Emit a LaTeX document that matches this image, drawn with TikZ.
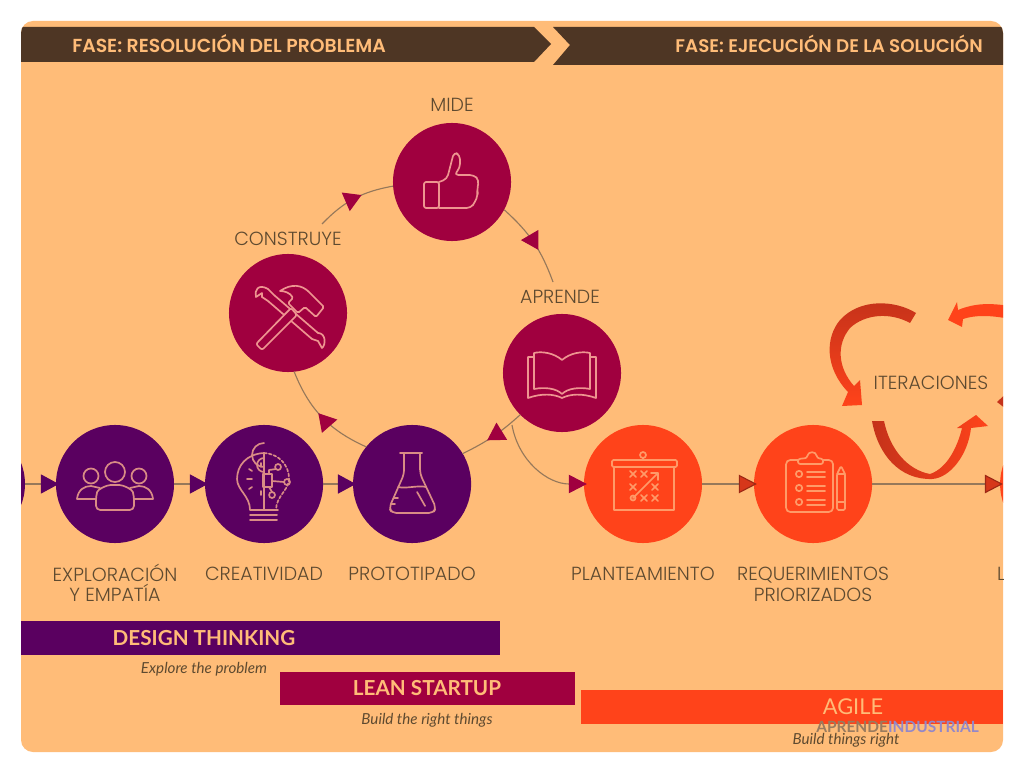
\documentclass[tikz,border=0pt]{standalone}
\usepackage{fontspec}
\setmainfont{Poppins}[UprightFont=* Light]
\newfontfamily\bandfont{Poppins}[UprightFont=* SemiBold]
\newfontfamily\barfont{Lato}
\usepackage{tikz}
\usetikzlibrary{arrows.meta,positioning,decorations.markings}
\definecolor{panelpeach}{HTML}{FFBC78}
\definecolor{bandbrown}{HTML}{4E3624}
\definecolor{plumdark}{HTML}{5A0060}
\definecolor{crimson}{HTML}{A0003F}
\definecolor{redorange}{HTML}{FF431A}
\definecolor{ribbondark}{HTML}{C4321A}
\definecolor{iconpink}{HTML}{EE9590}
\definecolor{iconplum}{HTML}{D98C85}
\definecolor{iconpeach}{HTML}{FF9A68}
\definecolor{labelbrown}{HTML}{5E4A30}
\definecolor{linetan}{HTML}{96785A}
\definecolor{markbrown}{HTML}{9A7B5E}
\definecolor{marklilac}{HTML}{9488C8}
\tikzstyle{bubble} = [circle, minimum size=2.95cm, inner sep=0pt, outer sep=0pt]
\tikzstyle{steplabel} = [inner sep=0pt, align=center, text=labelbrown, font=\fontsize{13.5}{14.5}\selectfont, execute at begin node=\rule{0pt}{14pt}]
\tikzstyle{bandtext} = [inner sep=0pt, text=panelpeach, font=\bandfont\fontsize{13.4}{15}\selectfont]
\tikzstyle{bartext} = [inner sep=0pt, text=panelpeach, font=\barfont\bfseries\fontsize{14.7}{17}\selectfont]
\tikzstyle{subtext} = [inner sep=0pt, text=labelbrown, font=\barfont\itshape\fontsize{10.8}{12}\selectfont]
\tikzstyle{flow} = [draw=linetan, line width=0.8pt]
\tikzstyle{iconline} = [line width=1.2pt, line join=round, line cap=round]
\tikzset{arcflow/.style={flow, postaction={decorate}, decoration={markings, mark=at position #1 with {\arrow{Triangle[length=0.43cm,width=0.5cm,color=crimson]}}}}, arcflow/.default=0.6}
\newcommand{\xmk}[2]{\draw[iconline] (#1,#2) +(-3,-3) -- +(3,3) +(-3,3) -- +(3,-3);}

\begin{document}
\begin{tikzpicture}[x=0.025cm, y=-0.025cm]
  \useasboundingbox (0,0) rectangle (1024,773);
  \fill[white] (0,0) rectangle (1024,773);
  \fill[panelpeach, rounded corners=0.3cm] (21,21) rectangle (1003,752);

  \begin{scope}
  \clip[rounded corners=0.3cm] (21,21) rectangle (1003,752);
  % phase bands
  \fill[bandbrown] (21,27) -- (534,27) -- (551,44) -- (534,62) -- (21,62) -- cycle;
  \fill[bandbrown] (553,27) -- (1003,27) -- (1003,65) -- (553,65) -- (570,45) -- cycle;
  \node [bandtext, anchor=west] (fasea) at (72,44) {FASE: RESOLUCIÓN DEL PROBLEMA};
  \node [bandtext, anchor=east, font=\bandfont\fontsize{13}{15}\selectfont] (faseb) at (983,44) {FASE: EJECUCIÓN DE LA SOLUCIÓN};

  % circles
  \node [bubble, fill=plumdark] (explora) at (115,484) {};
  \node [bubble, fill=plumdark, left=0.775cm of explora] (previo) {};
  \node [bubble, fill=plumdark, right=0.775cm of explora] (creativ) {};
  \node [bubble, fill=plumdark, right=0.75cm of creativ] (proto) {};
  \node [bubble, fill=redorange] (plantea) at (643,484) {};
  \node [bubble, fill=redorange, right=1.3cm of plantea] (requis) {};
  \node [bubble, fill=redorange, right=3.2cm of requis] (siguiente) {};
  \node [bubble, fill=crimson] (mide) at (452,182) {};
  \node [bubble, fill=crimson] (construye) at (288,313) {};
  \node [bubble, fill=crimson] (aprende) at (562,373) {};

  % labels
  \node [steplabel, below=0.43cm of explora, yshift=-0.09cm] (lexplora) {EXPLORACIÓN\\Y EMPATÍA};
  \node [steplabel, below=0.43cm of creativ] (lcreativ) {CREATIVIDAD};
  \node [steplabel, below=0.43cm of proto] (lproto) {PROTOTIPADO};
  \node [steplabel, below=0.43cm of plantea] (lplantea) {PLANTEAMIENTO};
  \node [steplabel, below=0.43cm of requis, yshift=-0.175cm] (lrequis) {REQUERIMIENTOS\\PRIORIZADOS};
  \node [steplabel, below=0.43cm of siguiente, xshift=-1.45cm] (lsiguiente) {L};
  \node [steplabel, above=0.275cm of mide] (lmide) {MIDE};
  \node [steplabel, above=0.2cm of construye] (lconstruye) {CONSTRUYE};
  \node [steplabel, above=0.25cm of aprende, xshift=-0.05cm] (laprende) {APRENDE};
  \node [steplabel] (iter) at (931,380) {ITERACIONES};

  % connectors
  \tikzset{plumtip/.style={-{Triangle[length=0.45cm,width=0.48cm,color=plumdark]}, shorten >=-2pt}}
  \tikzset{redtip/.style={-{Triangle[length=0.45cm,width=0.46cm,fill=ribbondark!70!redorange,color=ribbondark!80!black]}, shorten >=-2pt}}
  \draw [flow, plumtip] (previo) -- (explora);
  \draw [flow, plumtip] (explora) -- (creativ);
  \draw [flow, plumtip] (creativ) -- (proto);
  \draw [flow, redtip] (plantea) -- (requis);
  \draw [flow, redtip] (requis) -- (siguiente);
  \coordinate (salida) at (322,224);
  \coordinate (llegada) at (553,282);
  \coordinate (ramal) at (512,425);
  \draw [arcflow] (salida) to[bend left=18] (mide.184);
  \draw [arcflow] (mide.-28) to[bend left=14] (llegada);
  \draw [arcflow=0.55] (proto.141) to[bend left=22] (construye.-84);
  \draw [arcflow] (aprende.225) to[bend left=8] (proto.31);
  \draw [flow, -{Triangle[length=0.45cm,width=0.46cm,color=crimson]}, shorten >=-2pt] (ramal) to[out=-80,in=180] (plantea.west);

  % iteration ribbons
  \shade[top color=ribbondark, bottom color=redorange] (916,313) .. controls (895,300) and (860,298) .. (840,320) .. controls (825,338) and (825,368) .. (848,392) -- (842,406) -- (862,405) -- (860,380) -- (854,386) .. controls (838,368) and (836,345) .. (850,328) .. controls (865,314) and (890,312) .. (910,323) -- cycle;
  \shade[left color=ribbondark, right color=redorange] (872,421) .. controls (878,455) and (900,480) .. (932,479) .. controls (950,478) and (968,455) .. (971,428) -- (988,426) -- (976,415) -- (957,428) -- (962,428) .. controls (958,445) and (948,468) .. (930,474) .. controls (908,470) and (890,450) .. (884,421) -- cycle;
  \fill[redorange] (948,320) -- (957,302) -- (958,310) .. controls (975,303) and (990,303) .. (1010,306) -- (1010,319) .. controls (990,315) and (975,315) .. (963,319) -- (962,327) -- cycle;
  \fill[ribbondark] (1010,390) -- (997,402) -- (1010,412) -- cycle;

  % bars
  \fill[plumdark] (21,621) rectangle (500,655);
  \fill[crimson] (280,672) rectangle (575,705);
  \fill[redorange] (581,690) rectangle (1003,724);
  \node [bartext] (tdesign) at (204,638) {DESIGN THINKING};
  \node [bartext] (tlean) at (427,688) {LEAN STARTUP};
  \node [bartext, font=\barfont\fontsize{15.5}{17}\selectfont] (tagile) at (853,707) {AGILE};
  \node [subtext] (sdesign) at (204,669) {Explore the problem};
  \node [subtext] (slean) at (427,720) {Build the right things};
  \node [subtext] (sagile) at (846,740) {Build things right};
  \node [inner sep=0pt, anchor=west, font=\barfont\bfseries\fontsize{11}{12}\selectfont] (marca) at (816,727) {\textcolor{markbrown}{APRENDE}\textcolor{marklilac}{INDUSTRIAL}};

  % icons
  \begin{scope}[shift={(mide)}, draw=iconpink]
    \draw[iconline, rounded corners=1.5pt] (-28,0) rectangle (-13,26);
    \draw[iconline, rounded corners=3pt] (-13,0) -- (-5,-3) -- (2,-30) -- (8,-27) -- (8,-14) -- (2,-7) -- (22,-7) -- (27,-2) -- (25,8) -- (26,13) -- (23,20) -- (19,26) -- (-13,26);
  \end{scope}
  \begin{scope}[shift={(construye)}, draw=iconpink]
    \draw[iconline] (-20,-24) -- (-14,-18) -- (30,20) (-26,-16) -- (-20,-12) -- (24,26);
    \draw[iconline] (-20,-24) .. controls (-30,-30) and (-34,-22) .. (-32,-16) -- (-26,-20) -- (-26,-16);
    \draw[iconline] (30,20) .. controls (38,20) and (38,32) .. (34,35) -- (30,28) -- (24,26);
    \draw[iconline, fill=crimson, rounded corners=1.5pt] (-32,31) -- (-26,37) -- (9,2) -- (3,-5) -- cycle;
    \draw[iconline, fill=crimson, rounded corners=1pt] (-8,-22) .. controls (4,-30) and (14,-28) .. (22,-20) -- (36,-6) -- (28,4) -- (17,-6) -- (10,0) -- (0,-10) -- (5,-15) .. controls (2,-20) and (-3,-22) .. (-8,-22);
  \end{scope}
  \begin{scope}[shift={(aprende)}, draw=iconpink]
    \draw[iconline] (0,-13) .. controls (-8,-20) and (-20,-22) .. (-28,-20) -- (-28,16) .. controls (-18,14) and (-6,15) .. (0,21) .. controls (6,15) and (18,14) .. (28,16) -- (28,-20) .. controls (20,-22) and (8,-20) .. (0,-13) -- cycle;
    \draw[iconline] (-28,-16) -- (-34,-16) -- (-34,25) .. controls (-20,20) and (-8,21) .. (0,25) .. controls (8,21) and (20,20) .. (34,25) -- (34,-16) -- (28,-16);
  \end{scope}
  \begin{scope}[shift={(explora)}, draw=iconplum]
    \draw[iconline] (0,-12) circle[radius=10];
    \draw[iconline] (-24,-8) circle[radius=7.5];
    \draw[iconline] (24,-8) circle[radius=7.5];
    \draw[iconline, rounded corners=3pt] (-19,26) -- (-19,12) .. controls (-17,5) and (-8,1) .. (0,1) .. controls (8,1) and (17,5) .. (19,12) -- (19,26) -- cycle;
    \draw[iconline] (-19,15) -- (-38,15) .. controls (-37,6) and (-31,2) .. (-24,2) -- (-15,4);
    \draw[iconline] (19,15) -- (38,15) .. controls (37,6) and (31,2) .. (24,2) -- (15,4);
  \end{scope}
  \begin{scope}[shift={(creativ)}, draw=iconplum]
    \draw[iconline] (0,-31) -- (0,26);
    \draw[iconline] (0,-31) .. controls (-18,-30) and (-27,-18) .. (-27,-5) .. controls (-27,6) and (-14,12) .. (-14,26) -- (14,26);
    \draw[iconline, dashed, dash pattern=on 2pt off 1.5pt] (0,-31) .. controls (16,-30) and (25,-18) .. (25,-5) .. controls (25,6) and (12,12) .. (12,26);
    \draw[iconline] (-14,31) -- (13,31) (-14,36) -- (13,36);
    \draw[iconline] (0,-17) arc (90:270:12);
    \draw[iconline] (0,-12) arc (90:270:7);
    \draw[iconline] (-3,-21) -- (-3,-17) (-15,-15) -- (-12,-13) (-17,-5) -- (-12,-5) (-15,5) -- (-12,3) (-3,11) -- (-3,7);
    \draw[iconline] (-1,-10) rectangle (8,3);
    \draw[iconline] (14,-17) circle[radius=3] (23,-2) circle[radius=3] (8,11) circle[radius=3];
    \draw[iconline] (5,-10) -- (5,-14) -- (12,-15) (8,-3) -- (20,-2) (5,3) -- (8,8);
  \end{scope}
  \begin{scope}[shift={(proto)}, draw=iconplum]
    \draw[iconline, rounded corners=1.5pt] (-12,-31) -- (10,-31);
    \draw[iconline, rounded corners=3pt] (-8,-31) -- (-8,-10) -- (-23,24) -- (-20,29) -- (21,29) -- (24,24) -- (8,-10) -- (8,-31);
    \draw[iconline] (-14,3) .. controls (-6,5) and (6,1) .. (14,3);
    \draw[iconline] (5,8) -- (13,22) (-21,20) -- (-17,20) (-18,14) -- (-14,14);
  \end{scope}
  \begin{scope}[shift={(plantea)}, draw=iconpeach, color=iconpeach]
    \draw[iconline] (0,-29) circle[radius=3] (0,-26) -- (0,-24);
    \draw[iconline, rounded corners=1pt] (-31,-24) rectangle (34,-17);
    \draw[iconline] (-29,-17) rectangle (31,26);
    \draw[iconline] (-10,14) -- (15,-11) (8,-11) -- (15,-11) -- (15,-4);
    \draw[iconline] (-10,14) circle[radius=2.5];
    \xmk{-10}{-10} \xmk{1}{-10} \xmk{-10}{3} \xmk{12}{3} \xmk{1}{14} \xmk{12}{14}
  \end{scope}
  \begin{scope}[shift={(requis)}, draw=iconpeach, color=iconpeach]
    \draw[iconline, rounded corners=3pt] (-27,-24) rectangle (20,28);
    \draw[iconline, fill=redorange, rounded corners=1.5pt] (-15,-20) -- (-15,-25) -- (-6,-26) .. controls (-5,-33) and (3,-33) .. (4,-26) -- (10,-25) -- (10,-20) -- cycle;
    \draw[iconline] (-14,-10) circle[radius=3.2] (-14,4) circle[radius=3.2] (-14,18) circle[radius=3.2];
    \draw[iconline] (-6,-12) -- (12,-12) (-6,-7) -- (12,-7) (-6,2) -- (12,2) (-6,7) -- (12,7) (-6,16) -- (12,16) (-6,21) -- (12,21);
    \draw[iconline, rounded corners=1pt] (24,-10) -- (28,-18) -- (32,-10) -- (32,26) -- (24,26) -- cycle;
    \draw[iconline] (24,-10) -- (32,-10) (24,18) -- (32,18);
  \end{scope}
  \end{scope}
\end{tikzpicture}
\end{document}
